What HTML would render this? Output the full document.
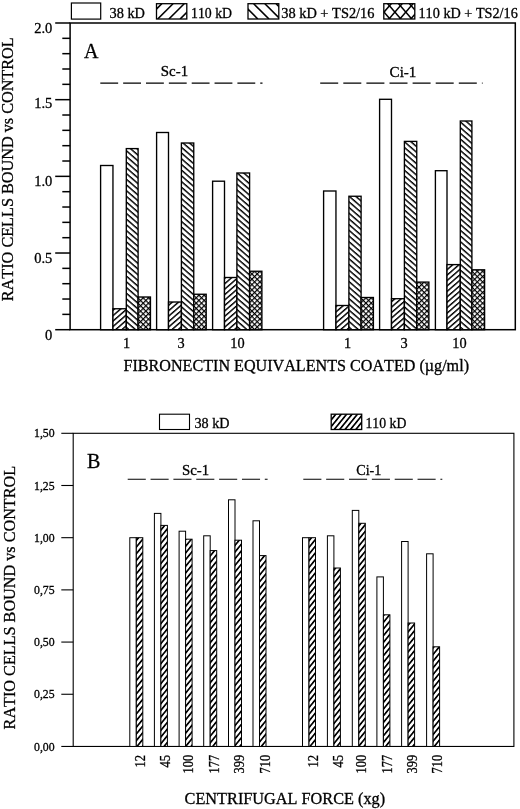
<!DOCTYPE html>
<html><head><meta charset="utf-8"><title>Figure</title>
<style>html,body{margin:0;padding:0;background:#fff;}svg{display:block;will-change:transform;}text{stroke:#000;stroke-width:.3px;font-kerning:none;}</style></head>
<body>
<svg width="520" height="809" viewBox="0 0 520 809" font-family="Liberation Serif, serif" fill="#000">
<defs>
<pattern id="hF" width="4.1" height="4.1" patternUnits="userSpaceOnUse" patternTransform="rotate(-41)"><rect width="4.1" height="4.1" fill="#fff"/><rect y="0" width="4.1" height="1.45" fill="#000"/></pattern>
<pattern id="hB" width="4.3" height="4.3" patternUnits="userSpaceOnUse" patternTransform="rotate(41)"><rect width="4.3" height="4.3" fill="#fff"/><rect y="0" width="4.3" height="1.45" fill="#000"/></pattern>
<pattern id="hX" width="3.75" height="3.75" patternUnits="userSpaceOnUse" patternTransform="rotate(45)"><rect width="3.75" height="3.75" fill="#000"/><rect x="1.2" y="1.2" width="2.55" height="2.55" fill="#fff"/></pattern>
<pattern id="hC" width="4.2" height="4.2" patternUnits="userSpaceOnUse" patternTransform="rotate(-51)"><rect width="4.2" height="4.2" fill="#fff"/><rect y="0" width="4.2" height="1.7" fill="#000"/></pattern>
<clipPath id="c2"><rect x="156.5" y="3.7" width="30.3" height="15.3"/></clipPath>
<clipPath id="c3"><rect x="248" y="3.7" width="30.8" height="15.3"/></clipPath>
<clipPath id="c4"><rect x="383.8" y="3.7" width="31" height="15.3"/></clipPath>
</defs>
<rect width="520" height="809" fill="#fff"/>
<rect x="70.1" y="23" width="445.19999999999993" height="306.7" fill="none" stroke="#000" stroke-width="1.5"/>
<line x1="55.2" y1="329.70" x2="70.1" y2="329.70" stroke="#000" stroke-width="1.5"/>
<line x1="62.3" y1="314.37" x2="70.1" y2="314.37" stroke="#000" stroke-width="1.5"/>
<line x1="62.3" y1="299.03" x2="70.1" y2="299.03" stroke="#000" stroke-width="1.5"/>
<line x1="62.3" y1="283.69" x2="70.1" y2="283.69" stroke="#000" stroke-width="1.5"/>
<line x1="62.3" y1="268.36" x2="70.1" y2="268.36" stroke="#000" stroke-width="1.5"/>
<line x1="55.2" y1="253.02" x2="70.1" y2="253.02" stroke="#000" stroke-width="1.5"/>
<line x1="62.3" y1="237.69" x2="70.1" y2="237.69" stroke="#000" stroke-width="1.5"/>
<line x1="62.3" y1="222.35" x2="70.1" y2="222.35" stroke="#000" stroke-width="1.5"/>
<line x1="62.3" y1="207.02" x2="70.1" y2="207.02" stroke="#000" stroke-width="1.5"/>
<line x1="62.3" y1="191.69" x2="70.1" y2="191.69" stroke="#000" stroke-width="1.5"/>
<line x1="55.2" y1="176.35" x2="70.1" y2="176.35" stroke="#000" stroke-width="1.5"/>
<line x1="62.3" y1="161.01" x2="70.1" y2="161.01" stroke="#000" stroke-width="1.5"/>
<line x1="62.3" y1="145.68" x2="70.1" y2="145.68" stroke="#000" stroke-width="1.5"/>
<line x1="62.3" y1="130.34" x2="70.1" y2="130.34" stroke="#000" stroke-width="1.5"/>
<line x1="62.3" y1="115.01" x2="70.1" y2="115.01" stroke="#000" stroke-width="1.5"/>
<line x1="55.2" y1="99.67" x2="70.1" y2="99.67" stroke="#000" stroke-width="1.5"/>
<line x1="62.3" y1="84.34" x2="70.1" y2="84.34" stroke="#000" stroke-width="1.5"/>
<line x1="62.3" y1="69.00" x2="70.1" y2="69.00" stroke="#000" stroke-width="1.5"/>
<line x1="62.3" y1="53.67" x2="70.1" y2="53.67" stroke="#000" stroke-width="1.5"/>
<line x1="62.3" y1="38.33" x2="70.1" y2="38.33" stroke="#000" stroke-width="1.5"/>
<line x1="55.2" y1="23.00" x2="70.1" y2="23.00" stroke="#000" stroke-width="1.5"/>
<text x="52.3" y="340.0" font-size="14.5" text-anchor="end" >0</text>
<text x="52.3" y="262.9" font-size="14.5" text-anchor="end" >0.5</text>
<text x="52.3" y="185.7" font-size="14.5" text-anchor="end" >1.0</text>
<text x="52.3" y="108.4" font-size="14.5" text-anchor="end" >1.5</text>
<text x="52.3" y="33.4" font-size="14.5" text-anchor="end" >2.0</text>
<text x="13.0" y="301.2" font-size="16.2" text-anchor="start" textLength="263.9" lengthAdjust="spacingAndGlyphs" transform="rotate(-90 13.0 301.2)" >RATIO CELLS BOUND vs CONTROL</text>
<rect x="71.4" y="3" width="29.3" height="16.1" fill="#fff" stroke="#000" stroke-width="1.2"/>
<text x="109.5" y="18.3" font-size="14.3" text-anchor="start" textLength="35.5" lengthAdjust="spacingAndGlyphs" >38 kD</text>
<g clip-path="url(#c2)" stroke="#000" stroke-width="1.6">
<line x1="135.3" y1="19.0" x2="150.6" y2="3.7"/>
<line x1="146.5" y1="19.0" x2="161.8" y2="3.7"/>
<line x1="157.7" y1="19.0" x2="173.0" y2="3.7"/>
<line x1="168.9" y1="19.0" x2="184.2" y2="3.7"/>
<line x1="180.1" y1="19.0" x2="195.4" y2="3.7"/>
<line x1="191.3" y1="19.0" x2="206.6" y2="3.7"/>
<line x1="202.5" y1="19.0" x2="217.8" y2="3.7"/>
</g>
<rect x="156.5" y="3.7" width="30.3" height="15.3" fill="none" stroke="#000" stroke-width="1.3"/>
<text x="191" y="18.3" font-size="14.3" text-anchor="start" textLength="41" lengthAdjust="spacingAndGlyphs" >110 kD</text>
<g clip-path="url(#c3)" stroke="#000" stroke-width="1.6">
<line x1="224.2" y1="19.0" x2="208.9" y2="3.7"/>
<line x1="235.4" y1="19.0" x2="220.1" y2="3.7"/>
<line x1="246.6" y1="19.0" x2="231.3" y2="3.7"/>
<line x1="257.8" y1="19.0" x2="242.5" y2="3.7"/>
<line x1="269.0" y1="19.0" x2="253.7" y2="3.7"/>
<line x1="280.2" y1="19.0" x2="264.9" y2="3.7"/>
<line x1="291.4" y1="19.0" x2="276.1" y2="3.7"/>
<line x1="302.6" y1="19.0" x2="287.3" y2="3.7"/>
</g>
<rect x="248" y="3.7" width="30.8" height="15.3" fill="none" stroke="#000" stroke-width="1.3"/>
<text x="281.2" y="18.3" font-size="14.3" text-anchor="start" textLength="93.3" lengthAdjust="spacingAndGlyphs" >38 kD + TS2/16</text>
<g clip-path="url(#c4)" stroke="#000" stroke-width="1.5">
<line x1="352.2" y1="0.5" x2="372.2" y2="23.7"/>
<line x1="352.2" y1="23.7" x2="372.2" y2="0.5"/>
<line x1="363.1" y1="0.5" x2="383.1" y2="23.7"/>
<line x1="363.1" y1="23.7" x2="383.1" y2="0.5"/>
<line x1="374.0" y1="0.5" x2="394.0" y2="23.7"/>
<line x1="374.0" y1="23.7" x2="394.0" y2="0.5"/>
<line x1="384.9" y1="0.5" x2="404.9" y2="23.7"/>
<line x1="384.9" y1="23.7" x2="404.9" y2="0.5"/>
<line x1="395.8" y1="0.5" x2="415.8" y2="23.7"/>
<line x1="395.8" y1="23.7" x2="415.8" y2="0.5"/>
<line x1="406.7" y1="0.5" x2="426.7" y2="23.7"/>
<line x1="406.7" y1="23.7" x2="426.7" y2="0.5"/>
<line x1="417.6" y1="0.5" x2="437.6" y2="23.7"/>
<line x1="417.6" y1="23.7" x2="437.6" y2="0.5"/>
<line x1="428.5" y1="0.5" x2="448.5" y2="23.7"/>
<line x1="428.5" y1="23.7" x2="448.5" y2="0.5"/>
</g>
<rect x="383.8" y="3.7" width="31" height="15.3" fill="none" stroke="#000" stroke-width="1.3"/>
<text x="418.5" y="18.3" font-size="14.3" text-anchor="start" textLength="99.3" lengthAdjust="spacingAndGlyphs" >110 kD + TS2/16</text>
<text x="84.0" y="58.1" font-size="20" text-anchor="start" stroke="#000" stroke-width="0.5" >A</text>
<text x="160.8" y="75.7" font-size="14.8" text-anchor="start" textLength="27.3" lengthAdjust="spacingAndGlyphs" >Sc-1</text>
<text x="389.6" y="77.2" font-size="14.8" text-anchor="start" textLength="26.8" lengthAdjust="spacingAndGlyphs" >Ci-1</text>
<line x1="100.3" y1="83.2" x2="262.5" y2="83.2" stroke="#000" stroke-width="1.25" stroke-dasharray="17.85 5"/>
<line x1="320.2" y1="83.2" x2="482.6" y2="83.2" stroke="#000" stroke-width="1.25" stroke-dasharray="18 5.1"/>
<rect x="100.60" y="165.50" width="12.35" height="164.20" fill="#fff" stroke="#000" stroke-width="1.35"/>
<rect x="112.95" y="308.75" width="13.35" height="20.95" fill="url(#hF)" stroke="#000" stroke-width="1.35"/>
<rect x="126.30" y="148.60" width="11.80" height="181.10" fill="url(#hB)" stroke="#000" stroke-width="1.35"/>
<rect x="138.10" y="297.00" width="12.35" height="32.70" fill="url(#hX)" stroke="#000" stroke-width="1.35"/>
<rect x="156.60" y="132.50" width="11.90" height="197.20" fill="#fff" stroke="#000" stroke-width="1.35"/>
<rect x="168.50" y="302.00" width="12.90" height="27.70" fill="url(#hF)" stroke="#000" stroke-width="1.35"/>
<rect x="181.40" y="143.00" width="12.35" height="186.70" fill="url(#hB)" stroke="#000" stroke-width="1.35"/>
<rect x="193.75" y="294.25" width="12.45" height="35.45" fill="url(#hX)" stroke="#000" stroke-width="1.35"/>
<rect x="212.60" y="181.20" width="11.90" height="148.50" fill="#fff" stroke="#000" stroke-width="1.35"/>
<rect x="224.50" y="277.50" width="12.40" height="52.20" fill="url(#hF)" stroke="#000" stroke-width="1.35"/>
<rect x="236.90" y="173.00" width="12.70" height="156.70" fill="url(#hB)" stroke="#000" stroke-width="1.35"/>
<rect x="249.60" y="271.25" width="12.30" height="58.45" fill="url(#hX)" stroke="#000" stroke-width="1.35"/>
<rect x="323.60" y="191.00" width="12.35" height="138.70" fill="#fff" stroke="#000" stroke-width="1.35"/>
<rect x="335.95" y="305.50" width="12.95" height="24.20" fill="url(#hF)" stroke="#000" stroke-width="1.35"/>
<rect x="348.90" y="196.25" width="12.20" height="133.45" fill="url(#hB)" stroke="#000" stroke-width="1.35"/>
<rect x="361.10" y="297.50" width="12.30" height="32.20" fill="url(#hX)" stroke="#000" stroke-width="1.35"/>
<rect x="379.60" y="99.30" width="11.90" height="230.40" fill="#fff" stroke="#000" stroke-width="1.35"/>
<rect x="391.50" y="298.70" width="12.90" height="31.00" fill="url(#hF)" stroke="#000" stroke-width="1.35"/>
<rect x="404.40" y="141.40" width="12.35" height="188.30" fill="url(#hB)" stroke="#000" stroke-width="1.35"/>
<rect x="416.75" y="282.10" width="12.15" height="47.60" fill="url(#hX)" stroke="#000" stroke-width="1.35"/>
<rect x="435.40" y="170.70" width="11.60" height="159.00" fill="#fff" stroke="#000" stroke-width="1.35"/>
<rect x="447.00" y="264.60" width="13.30" height="65.10" fill="url(#hF)" stroke="#000" stroke-width="1.35"/>
<rect x="460.30" y="121.00" width="11.60" height="208.70" fill="url(#hB)" stroke="#000" stroke-width="1.35"/>
<rect x="471.90" y="269.80" width="12.70" height="59.90" fill="url(#hX)" stroke="#000" stroke-width="1.35"/>
<text x="126.5" y="348.3" font-size="14.3" text-anchor="middle" >1</text>
<text x="181.2" y="348.3" font-size="14.3" text-anchor="middle" >3</text>
<text x="237.4" y="348.3" font-size="14.3" text-anchor="middle" >10</text>
<text x="347.5" y="348.3" font-size="14.3" text-anchor="middle" >1</text>
<text x="404" y="348.3" font-size="14.3" text-anchor="middle" >3</text>
<text x="459.5" y="348.3" font-size="14.3" text-anchor="middle" >10</text>
<text x="123.5" y="370.7" font-size="16.1" text-anchor="start" textLength="345.5" lengthAdjust="spacingAndGlyphs" >FIBRONECTIN EQUIVALENTS COATED (µg/ml)</text>
<rect x="73.2" y="433.3" width="440.7" height="313.15000000000003" fill="none" stroke="#000" stroke-width="1.1"/>
<line x1="61.3" y1="746.45" x2="73.2" y2="746.45" stroke="#000" stroke-width="1.1"/>
<text x="54.6" y="750.6" font-size="12" text-anchor="end" textLength="20.6" lengthAdjust="spacingAndGlyphs" stroke="#000" stroke-width="0.5" >0,00</text>
<line x1="61.3" y1="694.26" x2="73.2" y2="694.26" stroke="#000" stroke-width="1.1"/>
<text x="54.6" y="698.4" font-size="12" text-anchor="end" textLength="20.6" lengthAdjust="spacingAndGlyphs" stroke="#000" stroke-width="0.5" >0,25</text>
<line x1="61.3" y1="642.07" x2="73.2" y2="642.07" stroke="#000" stroke-width="1.1"/>
<text x="54.6" y="646.2" font-size="12" text-anchor="end" textLength="20.6" lengthAdjust="spacingAndGlyphs" stroke="#000" stroke-width="0.5" >0,50</text>
<line x1="61.3" y1="589.88" x2="73.2" y2="589.88" stroke="#000" stroke-width="1.1"/>
<text x="54.6" y="594.0" font-size="12" text-anchor="end" textLength="20.6" lengthAdjust="spacingAndGlyphs" stroke="#000" stroke-width="0.5" >0,75</text>
<line x1="61.3" y1="537.68" x2="73.2" y2="537.68" stroke="#000" stroke-width="1.1"/>
<text x="54.6" y="541.8" font-size="12" text-anchor="end" textLength="20.6" lengthAdjust="spacingAndGlyphs" stroke="#000" stroke-width="0.5" >1,00</text>
<line x1="61.3" y1="485.49" x2="73.2" y2="485.49" stroke="#000" stroke-width="1.1"/>
<text x="54.6" y="489.6" font-size="12" text-anchor="end" textLength="20.6" lengthAdjust="spacingAndGlyphs" stroke="#000" stroke-width="0.5" >1,25</text>
<line x1="61.3" y1="433.30" x2="73.2" y2="433.30" stroke="#000" stroke-width="1.1"/>
<text x="54.6" y="437.4" font-size="12" text-anchor="end" textLength="20.6" lengthAdjust="spacingAndGlyphs" stroke="#000" stroke-width="0.5" >1,50</text>
<text x="14.7" y="729.4" font-size="16.2" text-anchor="start" textLength="263.5" lengthAdjust="spacingAndGlyphs" transform="rotate(-90 14.7 729.4)" >RATIO CELLS BOUND vs CONTROL</text>
<rect x="159.5" y="414.2" width="30" height="15.3" fill="#fff" stroke="#000" stroke-width="1.1"/>
<text x="194.5" y="428" font-size="14.2" text-anchor="start" textLength="35" lengthAdjust="spacingAndGlyphs" >38 kD</text>
<rect x="331.2" y="414.2" width="30.5" height="15.3" fill="url(#hC)" stroke="#000" stroke-width="1.3"/>
<text x="365.5" y="428" font-size="14.2" text-anchor="start" textLength="40.8" lengthAdjust="spacingAndGlyphs" >110 kD</text>
<text x="87" y="468.2" font-size="20" text-anchor="start" stroke="#000" stroke-width="0.5" >B</text>
<text x="182" y="474.8" font-size="15" text-anchor="start" textLength="27.2" lengthAdjust="spacingAndGlyphs" >Sc-1</text>
<text x="356.2" y="475" font-size="14.6" text-anchor="start" textLength="25.2" lengthAdjust="spacingAndGlyphs" >Ci-1</text>
<line x1="127.7" y1="479.25" x2="267.6" y2="479.25" stroke="#000" stroke-width="1.15" stroke-dasharray="18.1 4.75"/>
<line x1="303.3" y1="479.2" x2="442.3" y2="479.2" stroke="#000" stroke-width="1.15" stroke-dasharray="18.1 4.75"/>
<rect x="129.80" y="537.70" width="6.5" height="208.75" fill="#fff" stroke="#000" stroke-width="1"/>
<rect x="136.30" y="537.70" width="6.5" height="208.75" fill="url(#hC)" stroke="#000" stroke-width="1"/>
<text x="145.0" y="754.9" font-size="13.8" text-anchor="end" textLength="12.6" lengthAdjust="spacingAndGlyphs" transform="rotate(-90 145.0 754.9)" stroke="#000" stroke-width="0.45" >12</text>
<rect x="154.40" y="513.40" width="6.5" height="233.05" fill="#fff" stroke="#000" stroke-width="1"/>
<rect x="160.90" y="525.40" width="6.5" height="221.05" fill="url(#hC)" stroke="#000" stroke-width="1"/>
<text x="170.4" y="754.9" font-size="13.8" text-anchor="end" textLength="12.6" lengthAdjust="spacingAndGlyphs" transform="rotate(-90 170.4 754.9)" stroke="#000" stroke-width="0.45" >45</text>
<rect x="179.10" y="531.20" width="6.5" height="215.25" fill="#fff" stroke="#000" stroke-width="1"/>
<rect x="185.60" y="539.20" width="6.5" height="207.25" fill="url(#hC)" stroke="#000" stroke-width="1"/>
<text x="192.9" y="754.9" font-size="13.8" text-anchor="end" textLength="18.6" lengthAdjust="spacingAndGlyphs" transform="rotate(-90 192.9 754.9)" stroke="#000" stroke-width="0.45" >100</text>
<rect x="203.70" y="535.80" width="6.5" height="210.65" fill="#fff" stroke="#000" stroke-width="1"/>
<rect x="210.20" y="550.60" width="6.5" height="195.85" fill="url(#hC)" stroke="#000" stroke-width="1"/>
<text x="219.3" y="754.9" font-size="13.8" text-anchor="end" textLength="18.6" lengthAdjust="spacingAndGlyphs" transform="rotate(-90 219.3 754.9)" stroke="#000" stroke-width="0.45" >177</text>
<rect x="228.50" y="499.80" width="6.5" height="246.65" fill="#fff" stroke="#000" stroke-width="1"/>
<rect x="235.00" y="540.20" width="6.5" height="206.25" fill="url(#hC)" stroke="#000" stroke-width="1"/>
<text x="244.2" y="754.9" font-size="13.8" text-anchor="end" textLength="18.6" lengthAdjust="spacingAndGlyphs" transform="rotate(-90 244.2 754.9)" stroke="#000" stroke-width="0.45" >399</text>
<rect x="253.00" y="520.80" width="6.5" height="225.65" fill="#fff" stroke="#000" stroke-width="1"/>
<rect x="259.50" y="555.60" width="6.5" height="190.85" fill="url(#hC)" stroke="#000" stroke-width="1"/>
<text x="269.9" y="754.9" font-size="13.8" text-anchor="end" textLength="18.6" lengthAdjust="spacingAndGlyphs" transform="rotate(-90 269.9 754.9)" stroke="#000" stroke-width="0.45" >710</text>
<rect x="302.50" y="537.70" width="6.5" height="208.75" fill="#fff" stroke="#000" stroke-width="1"/>
<rect x="309.00" y="537.70" width="6.5" height="208.75" fill="url(#hC)" stroke="#000" stroke-width="1"/>
<text x="318.5" y="754.9" font-size="13.8" text-anchor="end" textLength="12.6" lengthAdjust="spacingAndGlyphs" transform="rotate(-90 318.5 754.9)" stroke="#000" stroke-width="0.45" >12</text>
<rect x="327.40" y="535.80" width="6.5" height="210.65" fill="#fff" stroke="#000" stroke-width="1"/>
<rect x="333.90" y="568.00" width="6.5" height="178.45" fill="url(#hC)" stroke="#000" stroke-width="1"/>
<text x="343.4" y="754.9" font-size="13.8" text-anchor="end" textLength="12.6" lengthAdjust="spacingAndGlyphs" transform="rotate(-90 343.4 754.9)" stroke="#000" stroke-width="0.45" >45</text>
<rect x="352.30" y="510.40" width="6.5" height="236.05" fill="#fff" stroke="#000" stroke-width="1"/>
<rect x="358.80" y="523.30" width="6.5" height="223.15" fill="url(#hC)" stroke="#000" stroke-width="1"/>
<text x="366.5" y="754.9" font-size="13.8" text-anchor="end" textLength="18.6" lengthAdjust="spacingAndGlyphs" transform="rotate(-90 366.5 754.9)" stroke="#000" stroke-width="0.45" >100</text>
<rect x="376.90" y="576.90" width="6.5" height="169.55" fill="#fff" stroke="#000" stroke-width="1"/>
<rect x="383.40" y="614.80" width="6.5" height="131.65" fill="url(#hC)" stroke="#000" stroke-width="1"/>
<text x="392.3" y="754.9" font-size="13.8" text-anchor="end" textLength="18.6" lengthAdjust="spacingAndGlyphs" transform="rotate(-90 392.3 754.9)" stroke="#000" stroke-width="0.45" >177</text>
<rect x="401.60" y="541.50" width="6.5" height="204.95" fill="#fff" stroke="#000" stroke-width="1"/>
<rect x="408.10" y="623.00" width="6.5" height="123.45" fill="url(#hC)" stroke="#000" stroke-width="1"/>
<text x="416.9" y="754.9" font-size="13.8" text-anchor="end" textLength="18.6" lengthAdjust="spacingAndGlyphs" transform="rotate(-90 416.9 754.9)" stroke="#000" stroke-width="0.45" >399</text>
<rect x="426.60" y="553.80" width="6.5" height="192.65" fill="#fff" stroke="#000" stroke-width="1"/>
<rect x="433.10" y="646.80" width="6.5" height="99.65" fill="url(#hC)" stroke="#000" stroke-width="1"/>
<text x="442.3" y="754.9" font-size="13.8" text-anchor="end" textLength="18.6" lengthAdjust="spacingAndGlyphs" transform="rotate(-90 442.3 754.9)" stroke="#000" stroke-width="0.45" >710</text>
<text x="184.6" y="803.8" font-size="16.2" text-anchor="start" textLength="200.5" lengthAdjust="spacingAndGlyphs" >CENTRIFUGAL FORCE (xg)</text>
</svg>
</body></html>
